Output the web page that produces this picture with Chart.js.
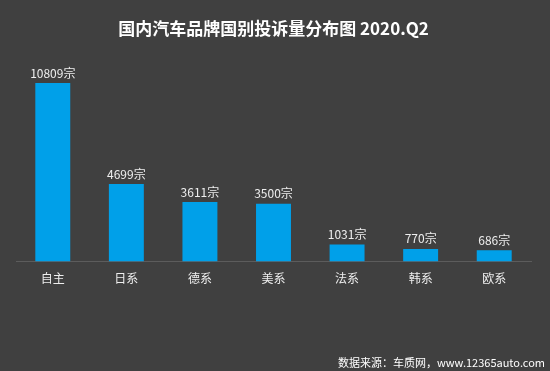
<!DOCTYPE html>
<html>
<head>
<meta charset="utf-8">
<script src="https://cdn.jsdelivr.net/npm/chart.js@4"></script>
<style>
    html, body { margin: 0; padding: 0; background: #404040; }
    #wrap { width: 550px; height: 371px; }
</style>
</head>
<body>
<div id="wrap"><canvas id="complaintChart" width="550" height="371"></canvas></div>
<script>
const categories = ['自主', '日系', '德系', '美系', '法系', '韩系', '欧系'];
const complaints = [10809, 4699, 3611, 3500, 1031, 770, 686];
const unit = '宗';
const titleText = '国内汽车品牌国别投诉量分布图 2020.Q2';
const sourceText = '数据来源：车质网，www.12365auto.com';

const cjkFont = '"Noto Sans CJK SC", "Noto Sans", sans-serif';

// value labels above bars + source note
const barLabels = {
    id: 'barLabels',
    afterDatasetsDraw(chart) {
        const ctx = chart.ctx;
        const meta = chart.getDatasetMeta(0);
        ctx.save();
        ctx.font = '12px ' + cjkFont;
        ctx.fillStyle = '#eeeeee';
        ctx.textAlign = 'center';
        ctx.textBaseline = 'middle';
        meta.data.forEach((bar, i) => {
            ctx.fillText(complaints[i] + unit, bar.x, bar.y - 10);
        });
        ctx.font = '11px ' + cjkFont;
        ctx.fillStyle = '#ffffff';
        ctx.textAlign = 'right';
        ctx.fillText(sourceText, 545, 363);
        ctx.restore();
    }
};

const ctx = document.getElementById('complaintChart').getContext('2d');
new Chart(ctx, {
    type: 'bar',
    data: {
        labels: categories,
        datasets: [{
            data: complaints,
            backgroundColor: '#00a0e9',
            barPercentage: 0.475,
            categoryPercentage: 1
        }]
    },
    options: {
        responsive: false,
        animation: false,
        layout: {
            padding: { left: 16, right: 19, top: 0, bottom: 75 }
        },
        plugins: {
            legend: { display: false },
            tooltip: { enabled: false },
            title: {
                display: true,
                text: titleText,
                color: '#ffffff',
                font: { family: cjkFont, size: 17, weight: 'bold' },
                padding: { top: 18, bottom: 25 }
            }
        },
        scales: {
            x: {
                grid: { display: false, drawTicks: false },
                border: { display: true, color: '#5c5c5c', width: 1 },
                ticks: {
                    color: '#eeeeee',
                    padding: 10,
                    font: { family: cjkFont, size: 12 }
                }
            },
            y: {
                display: false,
                min: 0,
                max: 12000
            }
        }
    },
    plugins: [barLabels]
});
</script>
</body>
</html>
